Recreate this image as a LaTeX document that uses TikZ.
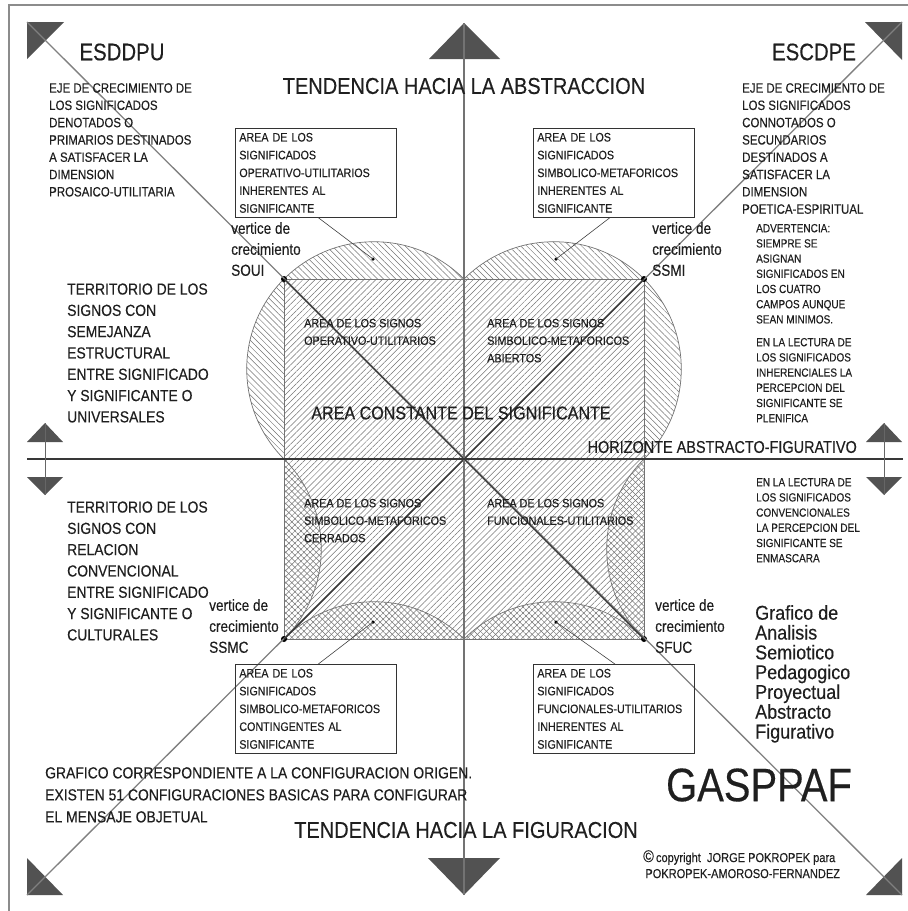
\documentclass[tikz,border=0pt]{standalone}
\usepackage{fontspec}
\setmainfont{Liberation Sans}
\newfontfamily\narrowA[FakeStretch=0.85,FakeBold=0.3]{Liberation Sans}
\newfontfamily\narrowB[FakeStretch=0.87,FakeBold=0.3]{Liberation Sans}
\newfontfamily\narrowC[FakeStretch=0.9,FakeBold=0.3]{Liberation Sans}
\usetikzlibrary{patterns.meta}

\newcommand\ejefont{\narrowA\fontsize{13.5}{17.3}\selectfont}
\newcommand\notefont{\narrowA\fontsize{11.8}{15.2}\selectfont}
\newcommand\territfont{\narrowB\fontsize{16}{21.3}\selectfont}
\newcommand\vertfont{\narrowA\fontsize{16}{21}\selectfont}
\newcommand\signfont{\narrowC\fontsize{12}{17.5}\selectfont}
\newcommand\boxfont{\narrowB\fontsize{12.3}{17.8}\selectfont}
\newcommand\titlefont{\narrowB\fontsize{23}{27}\selectfont}
\newcommand\axisfont{\narrowA\fontsize{24}{28}\selectfont}
\newcommand\constfont{\narrowB\fontsize{18.5}{22}\selectfont}
\newcommand\horizfont{\narrowA\fontsize{17}{20}\selectfont}
\newcommand\gaspfont{\narrowC\fontsize{20}{19.8}\selectfont}
\newcommand\logofont{\narrowA\fontsize{47}{50}\selectfont}
\newcommand\copyfont{\narrowA\fontsize{13}{16}\selectfont}

\tikzset{
  hatchsq/.style={pattern={Lines[angle=45,distance=4.3pt,line width=.5pt]},pattern color=black!55},
  hatchout/.style={pattern={Lines[angle=-45,distance=4.3pt,line width=.5pt]},pattern color=black!55},
  arcline/.style={draw=black!55,line width=.7pt},
  headtri/.style={fill=black!68},
  textblock/.style={anchor=north west,align=left,inner sep=0pt,text=black!88},
  plainlabel/.style={inner sep=0pt,text=black!88},
  areabox/.style={draw=black!80,line width=.7pt,anchor=north west,text width=153pt,
    minimum height=89pt,inner xsep=4pt,inner ysep=3pt,align=left,font=\boxfont,text=black!88},
  vdot/.style={circle,fill=black,inner sep=0pt,minimum size=6pt},
  leaddot/.style={circle,fill=black,inner sep=0pt,minimum size=3.5pt},
  leader/.style={draw=black!75,line width=.6pt}
}

\begin{document}
\begin{tikzpicture}[x=1pt,y=-1pt]
\useasboundingbox (0,0) rectangle (908,911);

% frame
\draw[black!45,line width=1.5pt] (9,911) -- (9,5) -- (908,5);

% outward segments of the upper quadrants
\begin{scope}
  \clip (284,225) rectangle (464,279);
  \fill[hatchout] (374,369) circle[radius=127.28pt];
  \draw[arcline] (374,369) circle[radius=127.28pt];
\end{scope}
\begin{scope}
  \clip (230,279) rectangle (284,459);
  \fill[hatchout] (374,369) circle[radius=127.28pt];
  \draw[arcline] (374,369) circle[radius=127.28pt];
\end{scope}
\begin{scope}
  \clip (464,225) rectangle (644,279);
  \fill[hatchout] (554,369) circle[radius=127.28pt];
  \draw[arcline] (554,369) circle[radius=127.28pt];
\end{scope}
\begin{scope}
  \clip (644,279) rectangle (700,459);
  \fill[hatchout] (554,369) circle[radius=127.28pt];
  \draw[arcline] (554,369) circle[radius=127.28pt];
\end{scope}

% constant area of the signifier
\fill[hatchsq] (284,279) rectangle (644,639);

% inward segments of the lower quadrants (cross hatched)
\begin{scope}
  \clip (284,590) rectangle (464,639);
  \fill[hatchout] (374,729) circle[radius=127.28pt];
  \draw[arcline] (374,729) circle[radius=127.28pt];
\end{scope}
\begin{scope}
  \clip (284,459) rectangle (330,639);
  \fill[hatchout] (194,549) circle[radius=127.28pt];
  \draw[arcline] (194,549) circle[radius=127.28pt];
\end{scope}
\begin{scope}
  \clip (464,590) rectangle (644,639);
  \fill[hatchout] (554,729) circle[radius=127.28pt];
  \draw[arcline] (554,729) circle[radius=127.28pt];
\end{scope}
\begin{scope}
  \clip (598,459) rectangle (644,639);
  \fill[hatchout] (734,549) circle[radius=127.28pt];
  \draw[arcline] (734,549) circle[radius=127.28pt];
\end{scope}
\draw[black!55,line width=.8pt] (284,279) rectangle (644,639);

% arrow heads of the axes
\fill[headtri] (464,23) -- (429,59) -- (500,59) -- cycle;
\fill[headtri] (464,895) -- (428,858) -- (500,858) -- cycle;
\fill[headtri] (45,423) -- (27,442) -- (63,442) -- cycle;
\fill[headtri] (45,495) -- (27,477) -- (63,477) -- cycle;
\fill[headtri] (884,423) -- (866,442) -- (902,442) -- cycle;
\fill[headtri] (884,495) -- (866,477) -- (902,477) -- cycle;
\fill[headtri] (27,22) -- (64,22) -- (27,59) -- cycle;
\fill[headtri] (902,22) -- (865,22) -- (902,60) -- cycle;
\fill[headtri] (27,895) -- (27,858) -- (63,895) -- cycle;
\fill[headtri] (902,895) -- (902,858) -- (866,895) -- cycle;

\coordinate (vtop) at (464,23);
\coordinate (vbot) at (464,895);
\coordinate (hleft) at (27,459);
\coordinate (hright) at (903,459);
\coordinate (ctl) at (27,22);
\coordinate (ctr) at (902,22);
\coordinate (cbl) at (27,895);
\coordinate (cbr) at (902,895);

% growth vertices
\node[vdot] (soui) at (284,279) {};
\node[vdot] (ssmi) at (644,279) {};
\node[vdot] (ssmc) at (284,639) {};
\node[vdot] (sfuc) at (644,639) {};

% axes and diagonals
\draw[black!50,line width=1.3pt] (ctl) -- (cbr);
\draw[black!50,line width=1.3pt] (ctr) -- (cbl);
\draw[black!78,line width=1.4pt] (soui.center) -- (sfuc.center);
\draw[black!78,line width=1.4pt] (ssmi.center) -- (ssmc.center);
\draw[black!55,line width=2pt] (vtop) -- (vbot);
\draw[black!78,line width=2.6pt] (hleft) -- (hright);
\draw[black!60,line width=1pt] (45,423) -- (45,495);
\draw[black!60,line width=1pt] (884,423) -- (884,495);

% titles
\node[plainlabel,font=\titlefont] (abstr) at (464,86) {TENDENCIA HACIA LA ABSTRACCION};
\node[plainlabel,font=\titlefont] (figur) at (466,830) {TENDENCIA HACIA LA FIGURACION};
\node[plainlabel,font=\axisfont] (esddpu) at (122,52) {ESDDPU};
\node[plainlabel,font=\axisfont] (escdpe) at (814,52) {ESCDPE};
\node[plainlabel,font=\constfont] (constante) at (461,413) {AREA CONSTANTE DEL SIGNIFICANTE};
\node[plainlabel,font=\horizfont,anchor=east] (horiz) at (857,447) {HORIZONTE ABSTRACTO-FIGURATIVO};
\node[plainlabel,font=\logofont] (gasppaf) at (759,785) {GASPPAF};

% side notes
\node[textblock,font=\ejefont] (ejeden) at (49,83) {EJE DE CRECIMIENTO DE\\LOS SIGNIFICADOS\\DENOTADOS O\\PRIMARIOS DESTINADOS\\A SATISFACER LA\\DIMENSION\\PROSAICO-UTILITARIA};
\node[textblock,font=\ejefont] (ejecon) at (742,83) {EJE DE CRECIMIENTO DE\\LOS SIGNIFICADOS\\CONNOTADOS O\\SECUNDARIOS\\DESTINADOS A\\SATISFACER LA\\DIMENSION\\POETICA-ESPIRITUAL};
\node[textblock,font=\notefont] (advert) at (756,223.8) {ADVERTENCIA:\\SIEMPRE SE\\ASIGNAN\\SIGNIFICADOS EN\\LOS CUATRO\\CAMPOS AUNQUE\\SEAN MINIMOS.};
\node[textblock,font=\notefont] (plenif) at (756,337.8) {EN LA LECTURA DE\\LOS SIGNIFICADOS\\INHERENCIALES LA\\PERCEPCION DEL\\SIGNIFICANTE SE\\PLENIFICA};
\node[textblock,font=\notefont] (enmasc) at (756,477.8) {EN LA LECTURA DE\\LOS SIGNIFICADOS\\CONVENCIONALES\\LA PERCEPCION DEL\\SIGNIFICANTE SE\\ENMASCARA};
\node[textblock,font=\territfont] (univ) at (67,283.2) {TERRITORIO DE LOS\\SIGNOS CON\\SEMEJANZA\\ESTRUCTURAL\\ENTRE SIGNIFICADO\\Y SIGNIFICANTE O\\UNIVERSALES};
\node[textblock,font=\territfont] (cultu) at (67,501.2) {TERRITORIO DE LOS\\SIGNOS CON\\RELACION\\CONVENCIONAL\\ENTRE SIGNIFICADO\\Y SIGNIFICANTE O\\CULTURALES};
\node[textblock,font=\territfont] (origen) at (45,767) {GRAFICO CORRESPONDIENTE A LA CONFIGURACION ORIGEN.\\[0.7pt]EXISTEN 51 CONFIGURACIONES BASICAS PARA CONFIGURAR\\[0.7pt]EL MENSAJE OBJETUAL};
\node[textblock,font=\gaspfont] (grafico) at (755,605) {Grafico de\\Analisis\\Semiotico\\Pedagogico\\Proyectual\\Abstracto\\Figurativo};
\node[textblock,font=\copyfont] (copy) at (643,850) {{\fontsize{17}{16}\selectfont\textcopyright}\,copyright\ \ JORGE POKROPEK para\\\,POKROPEK-AMOROSO-FERNANDEZ};

% vertex labels
\node[textblock,font=\vertfont] (lsoui) at (231,222) {vertice de\\crecimiento\\SOUI};
\node[textblock,font=\vertfont] (lssmi) at (652,222) {vertice de\\crecimiento\\SSMI};
\node[textblock,font=\vertfont] (lssmc) at (209,599) {vertice de\\crecimiento\\SSMC};
\node[textblock,font=\vertfont] (lsfuc) at (655,599) {vertice de\\crecimiento\\SFUC};

% areas of the signs
\node[textblock,font=\signfont] (sgoper) at (304,318.7) {AREA DE LOS SIGNOS\\OPERATIVO-UTILITARIOS};
\node[textblock,font=\signfont] (sgabier) at (487,318.7) {AREA DE LOS SIGNOS\\SIMBOLICO-METAFORICOS\\ABIERTOS};
\node[textblock,font=\signfont] (sgcerr) at (304,498.7) {AREA DE LOS SIGNOS\\SIMBOLICO-METAFORICOS\\CERRADOS};
\node[textblock,font=\signfont] (sgfunc) at (487,498.7) {AREA DE LOS SIGNOS\\FUNCIONALES-UTILITARIOS};

% areas of the meanings
\node[areabox] (boxoper) at (235,128) {AREA DE LOS\\SIGNIFICADOS\\OPERATIVO-UTILITARIOS\\INHERENTES AL\\SIGNIFICANTE};
\node[areabox] (boxsimb) at (533,128) {AREA DE LOS\\SIGNIFICADOS\\SIMBOLICO-METAFORICOS\\INHERENTES AL\\SIGNIFICANTE};
\node[areabox] (boxcont) at (235,664) {AREA DE LOS\\SIGNIFICADOS\\SIMBOLICO-METAFORICOS\\CONTINGENTES AL\\SIGNIFICANTE};
\node[areabox] (boxfunc) at (533,664) {AREA DE LOS\\SIGNIFICADOS\\FUNCIONALES-UTILITARIOS\\INHERENTES AL\\SIGNIFICANTE};

\node[leaddot] (dotoper) at (373,259) {};
\node[leaddot] (dotsimb) at (556,259) {};
\node[leaddot] (dotcont) at (373,622) {};
\node[leaddot] (dotfunc) at (556,622) {};
\draw[leader] ([xshift=2.5pt]boxoper.south) -- (dotoper.center);
\draw[leader] ([xshift=-4pt]boxsimb.south) -- (dotsimb.center);
\draw[leader] ([xshift=2.5pt]boxcont.north) -- (dotcont.center);
\draw[leader] ([xshift=1pt]boxfunc.north) -- (dotfunc.center);
\end{tikzpicture}
\end{document}
